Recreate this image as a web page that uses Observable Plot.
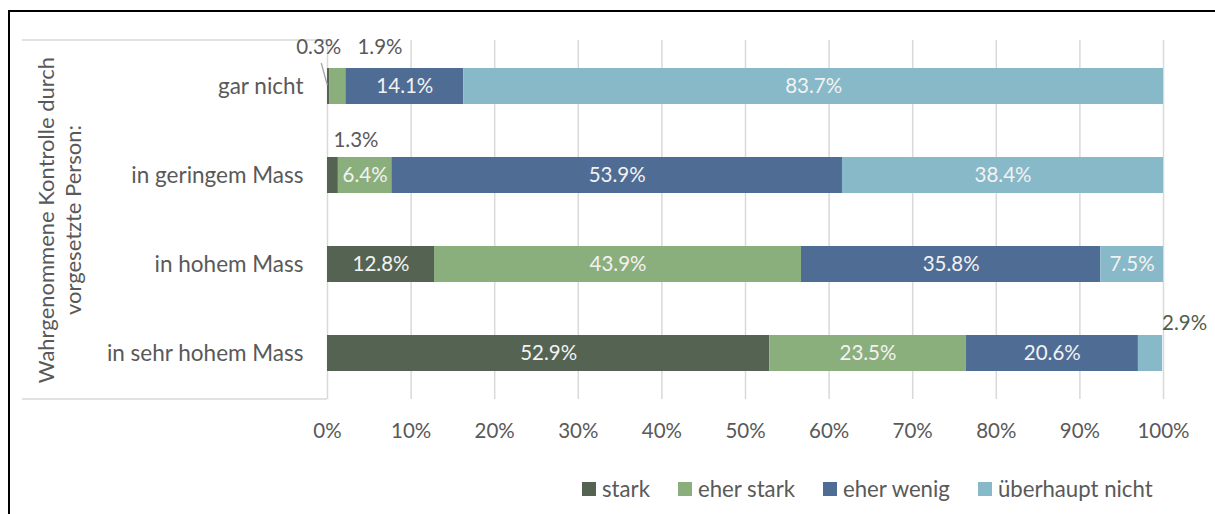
<!DOCTYPE html>
<html>
<head>
<meta charset="utf-8">
<script src="https://cdn.jsdelivr.net/npm/d3@7"></script>
<script src="https://cdn.jsdelivr.net/npm/@observablehq/plot@0.6"></script>
<style>
  body { margin: 0; background: #fff; font-family: Lato, "Open Sans", sans-serif; }
  #wrap { position: relative; width: 1215px; height: 514px; overflow: hidden; background: #fff; }
  #frame { position: absolute; left: 8px; top: 10px; width: 1400px; height: 700px;
           border-left: 2px solid #000; border-top: 2px solid #000; pointer-events: none; }
  #chart { position: absolute; left: 0; top: 0; }
  #legend { position: absolute; left: 582px; top: 475px; display: flex; gap: 28px;
            font-family: Lato, sans-serif; font-size: 22.2px; color: #595959; }
  .item { display: flex; align-items: center; gap: 6px; white-space: nowrap; }
  .sw { width: 14px; height: 14px; display: inline-block; }
</style>
</head>
<body>
<div id="wrap">
  <div id="chart"></div>
  <div id="frame"></div>
  <div id="legend"></div>
</div>
<script>
// ---- data ----
const categories = ["gar nicht", "in geringem Mass", "in hohem Mass", "in sehr hohem Mass"];
const series = ["stark", "eher stark", "eher wenig", "überhaupt nicht"];
const stark = [0.3, 1.3, 12.8, 52.9];
const eherStark = [1.9, 6.4, 43.9, 23.5];
const eherWenig = [14.1, 53.9, 35.8, 20.6];
const ueberhauptNicht = [83.7, 38.4, 7.5, 2.9];
const xTicks = [0, 10, 20, 30, 40, 50, 60, 70, 80, 90, 100];
const axisTitle = "Wahrgenommene Kontrolle durch\nvorgesetzte Person:";

// ---- styles ----
const colors = ["#556353", "#8BAE7D", "#4F6C95", "#88B9C8"];
const textGray = "#595959";

const seriesValues = [stark, eherStark, eherWenig, ueberhauptNicht];
const rows = [];
categories.forEach((cat, i) => {
  series.forEach((s, j) => rows.push({cat, series: s, value: seriesValues[j][i]}));
});
const fmt = v => v.toFixed(1) + "%";

// labels placed outside their (small) segments
const outside = [
  {cat: "gar nicht", series: "stark", dx: -10, dy: -39, fill: textGray},
  {cat: "gar nicht", series: "eher stark", dx: 42, dy: -39, fill: textGray},
  {cat: "in geringem Mass", series: "stark", dx: 23, dy: -35, fill: textGray},
  {cat: "in sehr hohem Mass", series: "überhaupt nicht", dx: 34, dy: -30, fill: "#4f5e4c"}
];
const isOutside = d => outside.some(o => o.cat === d.cat && o.series === d.series);

const W = 1215, H = 460;
const mL = 327, mR = 52, mT = 40, mB = 61;

function boxLines(index, scales, values, dimensions) {
  const g = document.createElementNS("http://www.w3.org/2000/svg", "g");
  const yTop = dimensions.marginTop;
  const yBot = dimensions.height - dimensions.marginBottom;
  for (const y of [yTop, yBot]) {
    const l = document.createElementNS("http://www.w3.org/2000/svg", "line");
    l.setAttribute("x1", 22); l.setAttribute("x2", dimensions.marginLeft);
    l.setAttribute("y1", y); l.setAttribute("y2", y);
    l.setAttribute("stroke", "#d9d9d9"); l.setAttribute("stroke-width", 1.5);
    g.appendChild(l);
  }
  return g;
}

function leader(index, scales) {
  const g = document.createElementNS("http://www.w3.org/2000/svg", "g");
  const x = scales.x, y = scales.y;
  const bw = y.bandwidth ? y.bandwidth() : 36;
  const xm = x(stark[0] / 2);
  const yTop = y(categories[0]);
  const l = document.createElementNS("http://www.w3.org/2000/svg", "line");
  l.setAttribute("x1", xm - 7); l.setAttribute("y1", yTop - 5);
  l.setAttribute("x2", xm - 1); l.setAttribute("y2", yTop + bw / 2 - 1);
  l.setAttribute("stroke", "#a6a6a6"); l.setAttribute("stroke-width", 1.3);
  g.appendChild(l);
  return g;
}

const plot = Plot.plot({
  width: W, height: H,
  marginLeft: mL, marginRight: mR, marginTop: mT, marginBottom: mB,
  style: {fontFamily: "Lato, sans-serif", fontSize: "20px", color: textGray, background: "transparent"},
  x: {domain: [0, 100]},
  y: {domain: categories, paddingInner: 0.6, paddingOuter: 0.3},
  color: {domain: series, range: colors},
  marks: [
    boxLines,
    Plot.gridX(xTicks, {stroke: "#d9d9d9", strokeOpacity: 1, strokeWidth: 1.5}),
    Plot.barX(rows, Plot.stackX({x: "value", y: "cat", fill: "series", order: null})),
    Plot.text(rows, Plot.stackX({
      x: "value", y: "cat", z: "series",
      text: d => isOutside(d) ? null : fmt(d.value),
      fill: "#f2f2f2", fontSize: 20.5
    })),
    ...outside.map(o => Plot.text(rows, Plot.stackX({
      x: "value", y: "cat", z: "series",
      text: d => (d.cat === o.cat && d.series === o.series) ? fmt(d.value) : null,
      fill: o.fill, fontSize: 20.5, dx: o.dx, dy: o.dy
    }))),
    leader,
    Plot.axisX({ticks: xTicks, tickFormat: d => d + "%", tickSize: 0, tickPadding: 24, fontSize: 20.5, label: null}),
    Plot.axisY({tickSize: 0, tickPadding: 24, fontSize: 22.5, label: null}),
    Plot.text([axisTitle], {
      frameAnchor: "left", rotate: -90, dx: -269, lineHeight: 1.25,
      textAnchor: "middle", lineAnchor: "middle",
      fontSize: 22, fill: textGray, text: d => d
    })
  ]
});
document.getElementById("chart").appendChild(plot);

const legend = document.getElementById("legend");
series.forEach((s, i) => {
  const it = document.createElement("div");
  it.className = "item";
  it.innerHTML = `<span class="sw" style="background:${colors[i]}"></span><span>${s}</span>`;
  legend.appendChild(it);
});
</script>
</body>
</html>
